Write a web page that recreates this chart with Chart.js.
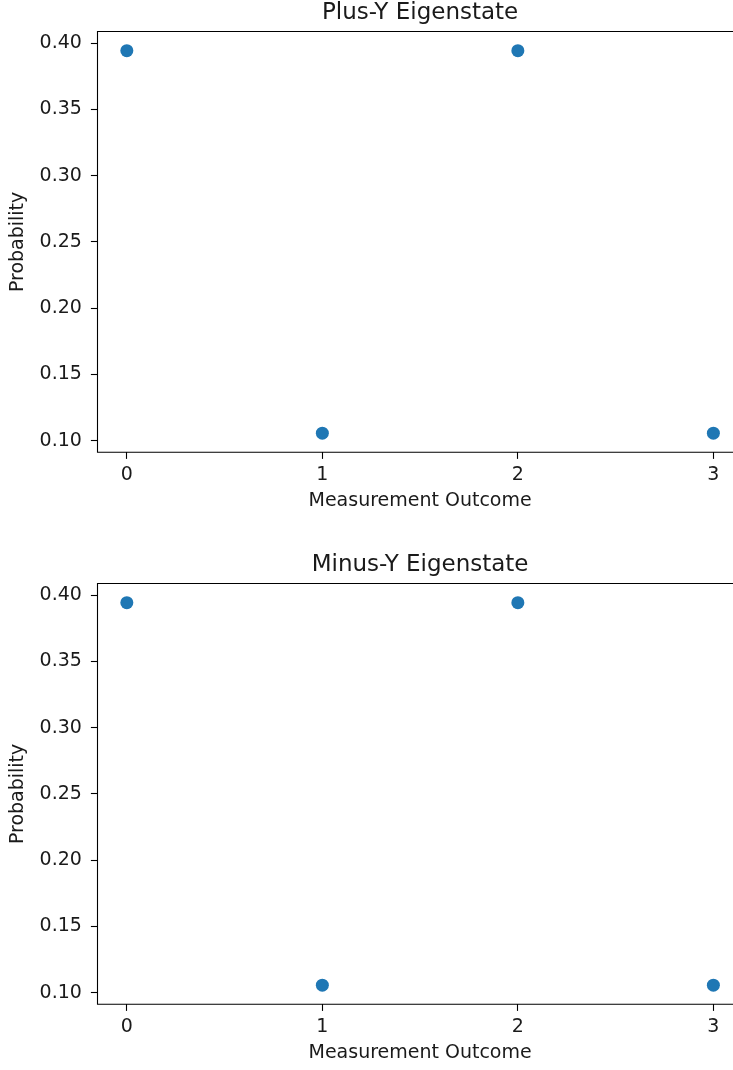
<!DOCTYPE html>
<html>
<head>
<meta charset="utf-8">
<script src="https://cdn.jsdelivr.net/npm/chart.js@4/dist/chart.umd.min.js"></script>
<style>
  html, body { margin: 0; padding: 0; background: #fff; overflow: hidden; width: 733px; height: 1070px; }
  canvas { position: absolute; left: 0; }
  #plusY { top: 0; }
  #minusY { top: 552px; }
</style>
</head>
<body>
<canvas id="plusY" width="760" height="540"></canvas>
<canvas id="minusY" width="760" height="540"></canvas>
<script>
// Measurement outcomes (basis-state index) and their probabilities
const outcomes = [0, 1, 2, 3];
const plusYProbs = [0.3943, 0.1057, 0.3943, 0.1057];
const minusYProbs = [0.3943, 0.1057, 0.3943, 0.1057];

// Tick labels
const xTickValues = [0, 1, 2, 3];
const yTickValues = [0.10, 0.15, 0.20, 0.25, 0.30, 0.35, 0.40];

const FONT = 'DejaVu Sans';
const INK = '#1a1a1a';
const DOT = '#1f77b4';

// Spines: top, left and bottom edges of the plotting area
const framePlugin = {
  id: 'frame',
  afterDraw(chart) {
    const { ctx, chartArea: a } = chart;
    ctx.save();
    ctx.strokeStyle = '#000';
    ctx.lineWidth = 1.1;
    ctx.beginPath();
    ctx.moveTo(chart.width, a.top);
    ctx.lineTo(a.left, a.top);
    ctx.lineTo(a.left, a.bottom);
    ctx.lineTo(chart.width, a.bottom);
    ctx.stroke();
    ctx.restore();
  }
};

// 5% padding around the data range on each axis
function paddedRange(values) {
  const lo = Math.min(...values), hi = Math.max(...values);
  const m = (hi - lo) * 0.05;
  return [lo - m, hi + m];
}

function makeChart(id, title, probs) {
  const [yMin, yMax] = paddedRange(probs);
  const [xMin, xMax] = paddedRange(outcomes);
  return new Chart(document.getElementById(id), {
    type: 'scatter',
    data: {
      datasets: [{
        data: outcomes.map((o, i) => ({ x: o, y: probs[i] })),
        backgroundColor: DOT,
        borderWidth: 0,
        pointRadius: 6.5,
        pointHoverRadius: 6.5
      }]
    },
    options: {
      responsive: false,
      animation: false,
      events: [],
      layout: { padding: { top: 0, left: 0, right: 17.3, bottom: 12.7 } },
      plugins: {
        legend: { display: false },
        tooltip: { enabled: false },
        title: {
          display: true,
          text: title,
          fullSize: false,
          color: INK,
          font: { family: FONT, size: 23, weight: 'normal', lineHeight: 1 },
          padding: { top: 1.5, bottom: 7 }
        }
      },
      scales: {
        x: {
          type: 'linear',
          min: xMin,
          max: xMax,
          afterBuildTicks: s => { s.ticks = xTickValues.map(v => ({ value: v })); },
          afterFit: s => { s.height = 75; },
          border: { display: false },
          grid: { drawOnChartArea: false, drawTicks: true, tickLength: 6.6, tickWidth: 1.1, tickColor: '#000' },
          ticks: { color: INK, padding: 4.4, font: { family: FONT, size: 19 }, callback: v => String(v) },
          title: { display: true, text: 'Measurement Outcome', color: INK,
                   font: { family: FONT, size: 19 }, padding: { top: 0, bottom: 15 } }
        },
        y: {
          type: 'linear',
          min: yMin,
          max: yMax,
          afterBuildTicks: s => { s.ticks = yTickValues.map(v => ({ value: v })); },
          afterFit: s => { s.width = 97.5; },
          border: { display: false },
          grid: { drawOnChartArea: false, drawTicks: true, tickLength: 6.6, tickWidth: 1.1, tickColor: '#000' },
          ticks: { color: INK, padding: 9, font: { family: FONT, size: 19 }, callback: v => v.toFixed(2) },
          title: { display: true, text: 'Probability', color: INK,
                   font: { family: FONT, size: 19 }, padding: { top: 6.5, bottom: 0 } }
        }
      }
    },
    plugins: [framePlugin]
  });
}

makeChart('plusY', 'Plus-Y Eigenstate', plusYProbs);
makeChart('minusY', 'Minus-Y Eigenstate', minusYProbs);
</script>
</body>
</html>
